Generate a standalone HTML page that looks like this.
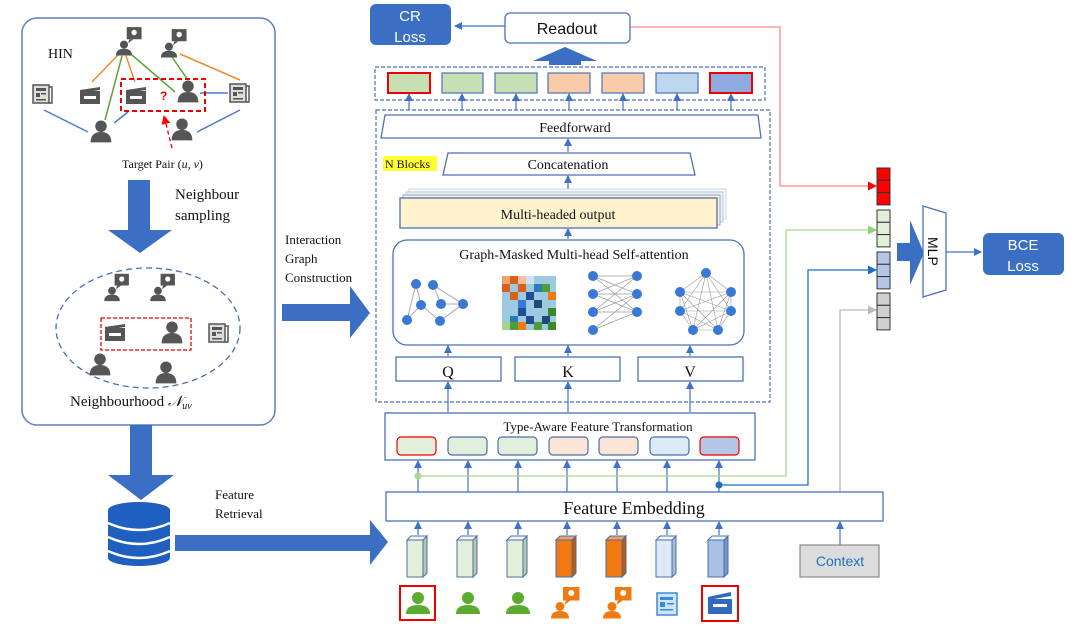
<!DOCTYPE html>
<html><head><meta charset="utf-8"><style>
body{margin:0;background:#fff}
svg{display:block}
text{font-family:"Liberation Serif",serif;fill:#111}
.s{font-family:"Liberation Sans",sans-serif}
</style></head><body>
<svg width="1080" height="626" viewBox="0 0 1080 626" xmlns="http://www.w3.org/2000/svg">
<defs>
<marker id="ab" markerWidth="8" markerHeight="8" refX="7" refY="4" orient="auto" markerUnits="userSpaceOnUse"><path d="M0,0 L8,4 L0,8z" fill="#3f72c6"/></marker>
<marker id="ar" markerWidth="9" markerHeight="9" refX="8" refY="4.5" orient="auto" markerUnits="userSpaceOnUse"><path d="M0,0 L9,4.5 L0,9z" fill="#f00"/></marker>
<marker id="ag" markerWidth="9" markerHeight="9" refX="8" refY="4.5" orient="auto" markerUnits="userSpaceOnUse"><path d="M0,0 L9,4.5 L0,9z" fill="#8fd07a"/></marker>
<marker id="ak" markerWidth="9" markerHeight="9" refX="8" refY="4.5" orient="auto" markerUnits="userSpaceOnUse"><path d="M0,0 L9,4.5 L0,9z" fill="#bbb"/></marker>
<marker id="au" markerWidth="9" markerHeight="9" refX="8" refY="4.5" orient="auto" markerUnits="userSpaceOnUse"><path d="M0,0 L9,4.5 L0,9z" fill="#1f6fc4"/></marker>
<g id="p"><circle cx="0" cy="-5" r="5"/><path d="M-9,9 Q-9,0 0,0 Q9,0 9,9z"/></g>
<g id="pc"><rect x="2" y="-14" width="11" height="9" /><path d="M4,-5 L3,-2 L7,-5z"/><circle cx="0" cy="-1" r="3"/><path d="M-6,7 Q-6,2 0,2 Q6,2 6,7z"/><circle cx="7.5" cy="-10" r="2" fill="#fff"/></g>
<g id="np"><rect x="-9" y="-9" width="16" height="18" fill="#ddd" stroke="#555" stroke-width="1.5"/><rect x="-6" y="-6" width="10" height="3" fill="#555"/><rect x="-6" y="-1" width="4" height="4" fill="#555"/><rect x="-1" y="-1" width="5" height="1.5" fill="#555"/><rect x="-6" y="5" width="10" height="1.5" fill="#555"/><path d="M7,-7 h3 v16 h-3" fill="none" stroke="#555" stroke-width="1.5"/></g>
<g id="cl"><rect x="-10" y="-5" width="20" height="13" fill="#555"/><path d="M-10,-6 L10,-9 L10,-6 L-10,-3z" fill="#555"/><rect x="-6" y="0" width="12" height="3" fill="#fff"/></g>
</defs>

<!-- LEFT PANEL -->
<rect x="22" y="18" width="253" height="407" rx="15" fill="#fff" stroke="#5b7fc0" stroke-width="1.5"/>
<text x="48" y="58" font-size="14">HIN</text>
<g stroke-width="1.5">
<line x1="118" y1="55" x2="92" y2="82" stroke="#f08a30"/>
<line x1="122" y1="56" x2="105" y2="120" stroke="#5aa63a"/>
<line x1="126" y1="56" x2="135" y2="82" stroke="#f08a30"/>
<line x1="132" y1="55" x2="175" y2="92" stroke="#5aa63a"/>
<line x1="172" y1="57" x2="188" y2="80" stroke="#5aa63a"/>
<line x1="180" y1="54" x2="240" y2="80" stroke="#f08a30"/>
<line x1="44" y1="110" x2="88" y2="132" stroke="#4a7cc8"/>
<line x1="114" y1="123" x2="128" y2="112" stroke="#4a7cc8"/>
<line x1="200" y1="93" x2="228" y2="93" stroke="#4a7cc8"/>
<line x1="197" y1="132" x2="240" y2="110" stroke="#4a7cc8"/>
</g>
<g fill="#555">
<g transform="translate(124,46) scale(1.35)"><use href="#pc"/></g>
<g transform="translate(169,48) scale(1.35)"><use href="#pc"/></g>
<g transform="translate(101,132) scale(1.15)"><use href="#p"/></g>
<g transform="translate(182,130) scale(1.15)"><use href="#p"/></g>
<g transform="translate(188,92) scale(1.15)"><use href="#p"/></g>
<use href="#cl" x="90" y="96"/><use href="#cl" x="136" y="96"/>
<use href="#np" x="42" y="94"/><use href="#np" x="239" y="93"/>
</g>
<rect x="121" y="79" width="84" height="32" fill="none" stroke="#e00" stroke-width="2" stroke-dasharray="5,3"/>
<text x="160" y="100" font-size="12" style="fill:#e00" font-weight="bold" class="s">?</text>
<line x1="172" y1="148" x2="164" y2="116" stroke="#e00" stroke-width="1.3" stroke-dasharray="4,3" marker-end="url(#ar)"/>
<text x="122" y="168" font-size="12">Target Pair (<tspan font-style="italic">u, v</tspan>)</text>
<path d="M128,180 h22 v50 h22 l-32,23 l-32,-23 h20z" fill="#3a6fc4"/>
<text x="175" y="199" font-size="15">Neighbour</text>
<text x="175" y="220" font-size="15">sampling</text>
<ellipse cx="148" cy="328" rx="92" ry="60" fill="none" stroke="#4a6fb0" stroke-width="1.3" stroke-dasharray="6,4"/>
<g fill="#555">
<g transform="translate(112,292) scale(1.3)"><use href="#pc"/></g>
<g transform="translate(158,292) scale(1.3)"><use href="#pc"/></g>
<use href="#cl" x="115" y="333"/>
<g transform="translate(172,333) scale(1.15)"><use href="#p"/></g>
<use href="#np" x="218" y="333"/>
<g transform="translate(100,365) scale(1.15)"><use href="#p"/></g>
<g transform="translate(166,373) scale(1.15)"><use href="#p"/></g>
</g>
<rect x="101" y="318" width="90" height="32" fill="none" stroke="#e00" stroke-width="1.3" stroke-dasharray="4,2"/>
<text x="70" y="406" font-size="15">Neighbourhood <tspan font-style="italic">𝒩<tspan font-size="10" dy="3">uv</tspan></tspan></text>

<!-- arrows left -->
<text x="285" y="244" font-size="13">Interaction</text>
<text x="285" y="263" font-size="13">Graph</text>
<text x="285" y="282" font-size="13">Construction</text>
<path d="M282,304 h68 v-18 l20,27 l-20,25 v-17 h-68z" fill="#3a6fc4"/>
<path d="M130,425 h22 v50 h22 l-33,25 l-33,-25 h22z" fill="#3a6fc4"/>
<text x="215" y="499" font-size="13">Feature</text>
<text x="215" y="518" font-size="13">Retrieval</text>
<path d="M175,535 h195 v-15 l18,22 l-18,23 v-14 h-195z" fill="#3a6fc4"/>
<g fill="#1f5fbf">
<ellipse cx="139" cy="510" rx="31" ry="8"/>
<rect x="108" y="510" width="62" height="48"/>
<ellipse cx="139" cy="558" rx="31" ry="8"/>
</g>
<g fill="none" stroke="#fff" stroke-width="2.5">
<path d="M108,523 Q139,537 170,523"/><path d="M108,537 Q139,551 170,537"/><path d="M108,551 Q139,565 170,551"/>
</g>

<!-- TOP -->
<rect x="370" y="4" width="81" height="41" rx="6" fill="#3a6fc4"/>
<text x="410" y="21" font-size="15" text-anchor="middle" class="s" style="fill:#fff">CR</text>
<text x="410" y="42" font-size="15" text-anchor="middle" class="s" style="fill:#fff">Loss</text>
<line x1="505" y1="26" x2="455" y2="26" stroke="#3f72c6" stroke-width="1.3" marker-end="url(#ab)"/>
<rect x="505" y="13" width="125" height="30" rx="5" fill="#fff" stroke="#4a72b8" stroke-width="1.3"/>
<text x="567" y="34" font-size="16" text-anchor="middle" class="s">Readout</text>
<path d="M533,61 L565,47 L597,61 h-16 v4 h-32 v-4z" fill="#3a6fc4"/>
<rect x="375" y="67" width="390" height="33" fill="none" stroke="#4a72b8" stroke-width="1.2" stroke-dasharray="4,2"/>
<g stroke-width="1.2">
<rect x="388" y="73" width="42" height="20" fill="#c6e0b4" stroke="#e00" stroke-width="2"/>
<rect x="442" y="73" width="41" height="20" fill="#c6e0b4" stroke="#4a72b8"/>
<rect x="495" y="73" width="42" height="20" fill="#c6e0b4" stroke="#4a72b8"/>
<rect x="548" y="73" width="42" height="20" fill="#f9cba8" stroke="#4a72b8"/>
<rect x="602" y="73" width="42" height="20" fill="#f9cba8" stroke="#4a72b8"/>
<rect x="656" y="73" width="42" height="20" fill="#bdd7ee" stroke="#4a72b8"/>
<rect x="710" y="73" width="42" height="20" fill="#8eaadf" stroke="#e00" stroke-width="2"/>
</g>
<g stroke="#3f72c6" stroke-width="1.2" marker-end="url(#ab)">
<line x1="409" y1="110" x2="409" y2="94"/><line x1="462" y1="110" x2="462" y2="94"/>
<line x1="516" y1="110" x2="516" y2="94"/><line x1="569" y1="110" x2="569" y2="94"/>
<line x1="623" y1="110" x2="623" y2="94"/><line x1="677" y1="110" x2="677" y2="94"/>
<line x1="731" y1="110" x2="731" y2="94"/>
</g>
<rect x="376" y="110" width="394" height="292" fill="none" stroke="#4a72b8" stroke-width="1.2" stroke-dasharray="4,2"/>
<path d="M385,115 L758,115 L761,138 L381,138z" fill="#fff" stroke="#4a72b8" stroke-width="1.3"/>
<text x="575" y="132" font-size="14" text-anchor="middle">Feedforward</text>
<path d="M448,153 L690,153 L695,175 L443,175z" fill="#fff" stroke="#4a72b8" stroke-width="1.3"/>
<text x="568" y="169" font-size="14" text-anchor="middle">Concatenation</text>
<rect x="383" y="156" width="54" height="15" fill="#ffff33"/>
<text x="385" y="168" font-size="12">N Blocks</text>
<g stroke="#3f72c6" stroke-width="1.2" marker-end="url(#ab)">
<line x1="568" y1="152" x2="568" y2="139"/><line x1="568" y1="196" x2="568" y2="176"/>
<line x1="568" y1="239" x2="568" y2="229"/>
<line x1="448" y1="356" x2="448" y2="346"/><line x1="568" y1="356" x2="568" y2="346"/><line x1="690" y1="356" x2="690" y2="346"/>
<line x1="448" y1="412" x2="448" y2="382"/><line x1="568" y1="412" x2="568" y2="382"/><line x1="690" y1="412" x2="690" y2="382"/>
</g>
<rect x="409" y="189" width="317" height="30" fill="#f5f8fc" stroke="#cdd8e8"/>
<rect x="406" y="192" width="317" height="30" fill="#eef2f8" stroke="#b8c6dc"/>
<rect x="403" y="195" width="317" height="30" fill="#fdf1cf" stroke="#8ea6cc"/>
<rect x="400" y="198" width="317" height="30" fill="#fff2cc" stroke="#4a72b8" stroke-width="1.3"/>
<text x="558" y="219" font-size="14" text-anchor="middle">Multi-headed output</text>
<rect x="393" y="240" width="351" height="105" rx="14" fill="#fff" stroke="#4a72b8" stroke-width="1.3"/>
<text x="574" y="259" font-size="14" text-anchor="middle">Graph-Masked Multi-head Self-attention</text>
<g stroke="#999" stroke-width="0.8">
<line x1="416" y1="284" x2="407" y2="320"/><line x1="416" y1="284" x2="421" y2="305"/><line x1="433" y1="285" x2="441" y2="304"/>
<line x1="441" y1="304" x2="463" y2="304"/><line x1="433" y1="285" x2="463" y2="304"/><line x1="421" y1="305" x2="440" y2="321"/>
<line x1="407" y1="320" x2="421" y2="305"/><line x1="440" y1="321" x2="463" y2="304"/>
</g>
<g fill="#3a78d6"><circle cx="416" cy="284" r="5"/><circle cx="433" cy="285" r="5"/><circle cx="421" cy="305" r="5"/><circle cx="441" cy="304" r="5"/><circle cx="463" cy="304" r="5"/><circle cx="407" cy="320" r="5"/><circle cx="440" cy="321" r="5"/></g>
<g>
<rect x="502" y="276" width="54" height="54" fill="#9ecae1"/>
<rect x="502" y="276" width="8" height="8" fill="#f4a36a"/><rect x="510" y="276" width="8" height="8" fill="#d9601a"/><rect x="518" y="276" width="8" height="8" fill="#f8c09a"/><rect x="526" y="276" width="8" height="8" fill="#cfe3f3"/>
<rect x="502" y="284" width="8" height="8" fill="#d9601a"/><rect x="518" y="284" width="8" height="8" fill="#d9601a"/><rect x="534" y="284" width="8" height="8" fill="#2b7bba"/><rect x="542" y="284" width="8" height="8" fill="#4a9f3a"/>
<rect x="510" y="292" width="8" height="8" fill="#d9601a"/><rect x="526" y="292" width="8" height="8" fill="#1f4e91"/><rect x="548" y="292" width="8" height="8" fill="#f07a10"/>
<rect x="518" y="300" width="8" height="8" fill="#3a78d6"/><rect x="534" y="300" width="8" height="8" fill="#1b4a7a"/>
<rect x="518" y="308" width="8" height="8" fill="#1f4e91"/><rect x="548" y="308" width="8" height="8" fill="#3a8a2a"/>
<rect x="510" y="316" width="8" height="8" fill="#2b7bba"/><rect x="526" y="316" width="8" height="8" fill="#1f4e91"/><rect x="542" y="316" width="8" height="8" fill="#1b4a7a"/>
<rect x="502" y="322" width="8" height="8" fill="#a5d38a"/><rect x="510" y="322" width="8" height="8" fill="#4a9f3a"/><rect x="518" y="322" width="8" height="8" fill="#f07a10"/><rect x="534" y="322" width="8" height="8" fill="#4a9f3a"/><rect x="548" y="322" width="8" height="8" fill="#3a8a2a"/>
</g>
<g stroke="#999" stroke-width="0.7" fill="none">
<path d="M593,276 L637,276 M593,276 L637,294 M593,276 L637,312 M593,294 L637,276 M593,294 L637,312 M593,312 L637,276 M593,312 L637,294 M593,312 L637,312 M593,330 L637,294 M593,330 L637,312 M593,294 L637,294"/>
</g>
<g fill="#3a78d6"><circle cx="593" cy="276" r="5"/><circle cx="593" cy="294" r="5"/><circle cx="593" cy="312" r="5"/><circle cx="593" cy="330" r="5"/><circle cx="637" cy="276" r="5"/><circle cx="637" cy="294" r="5"/><circle cx="637" cy="312" r="5"/></g>
<g stroke="#999" stroke-width="0.6" fill="none">
<path d="M706,273 L680,292 L680,311 L693,330 L718,330 L731,311 L731,292z M706,273 L680,311 M706,273 L693,330 M706,273 L718,330 M706,273 L731,311 M680,292 L693,330 M680,292 L718,330 M680,292 L731,311 M680,292 L731,292 M680,311 L718,330 M680,311 L731,311 M680,311 L731,292 M693,330 L731,311 M693,330 L731,292 M718,330 L731,292"/>
</g>
<g fill="#3a78d6"><circle cx="706" cy="273" r="5"/><circle cx="680" cy="292" r="5"/><circle cx="680" cy="311" r="5"/><circle cx="693" cy="330" r="5"/><circle cx="718" cy="330" r="5"/><circle cx="731" cy="311" r="5"/><circle cx="731" cy="292" r="5"/></g>
<g fill="#fff" stroke="#4a72b8" stroke-width="1.3">
<rect x="396" y="357" width="105" height="24"/><rect x="515" y="357" width="105" height="24"/><rect x="638" y="357" width="105" height="24"/>
</g>
<text x="448" y="377" font-size="16" text-anchor="middle">Q</text>
<text x="568" y="377" font-size="16" text-anchor="middle">K</text>
<text x="690" y="377" font-size="16" text-anchor="middle">V</text>

<rect x="385" y="413" width="370" height="47" fill="#fff" stroke="#4a72b8" stroke-width="1.3"/>
<text x="598" y="431" font-size="13" text-anchor="middle">Type-Aware Feature Transformation</text>
<g stroke-width="1.2">
<rect x="397" y="437" width="39" height="18" rx="4" fill="#e2efda" stroke="#e00"/>
<rect x="448" y="437" width="39" height="18" rx="4" fill="#e2efda" stroke="#4a6fa8"/>
<rect x="498" y="437" width="39" height="18" rx="4" fill="#e2efda" stroke="#4a6fa8"/>
<rect x="549" y="437" width="39" height="18" rx="4" fill="#fce4d6" stroke="#4a6fa8"/>
<rect x="599" y="437" width="39" height="18" rx="4" fill="#fce4d6" stroke="#4a6fa8"/>
<rect x="650" y="437" width="39" height="18" rx="4" fill="#ddebf7" stroke="#4a6fa8"/>
<rect x="700" y="437" width="39" height="18" rx="4" fill="#b4c7e7" stroke="#e00"/>
</g>
<g stroke="#3f72c6" stroke-width="1.2" marker-end="url(#ab)">
<line x1="418" y1="492" x2="418" y2="461"/><line x1="468" y1="492" x2="468" y2="461"/><line x1="518" y1="492" x2="518" y2="461"/>
<line x1="567" y1="492" x2="567" y2="461"/><line x1="617" y1="492" x2="617" y2="461"/><line x1="667" y1="492" x2="667" y2="461"/><line x1="719" y1="492" x2="719" y2="461"/>
</g>
<polyline points="418,476 786,476 786,230 876,230" fill="none" stroke="#a8d88f" stroke-width="1.3" marker-end="url(#ag)"/>
<circle cx="418" cy="476" r="3.5" fill="#a8d88f"/>
<polyline points="719,485 808,485 808,270 876,270" fill="none" stroke="#1f6fc4" stroke-width="1.3" marker-end="url(#au)"/>
<circle cx="719" cy="485" r="3.5" fill="#1f6fc4"/>
<polyline points="840,492 840,310 876,310" fill="none" stroke="#bbb" stroke-width="1.3" marker-end="url(#ak)"/>
<polyline points="630,27 780,27 780,186 876,186" fill="none" stroke="#f66" stroke-width="1" marker-end="url(#ar)"/>

<rect x="386" y="492" width="497" height="29" fill="#fff" stroke="#4a72b8" stroke-width="1.3"/>
<text x="634" y="514" font-size="18" text-anchor="middle">Feature Embedding</text>
<g stroke="#3f72c6" stroke-width="1.2" marker-end="url(#ab)">
<line x1="418" y1="535" x2="418" y2="522"/><line x1="468" y1="535" x2="468" y2="522"/><line x1="518" y1="535" x2="518" y2="522"/>
<line x1="567" y1="535" x2="567" y2="522"/><line x1="617" y1="535" x2="617" y2="522"/><line x1="667" y1="535" x2="667" y2="522"/><line x1="719" y1="535" x2="719" y2="522"/>
<line x1="840" y1="545" x2="840" y2="522"/>
</g>
<g stroke="#4a6fa8" stroke-width="1">
<g fill="#e2efda"><path d="M407,540 h16 v37 h-16z"/><path d="M457,540 h16 v37 h-16z"/><path d="M507,540 h16 v37 h-16z"/></g>
<g fill="#b9c9a8"><path d="M423,540 l4,-4 v37 l-4,4z"/><path d="M473,540 l4,-4 v37 l-4,4z"/><path d="M523,540 l4,-4 v37 l-4,4z"/></g>
<g fill="#f07a10"><path d="M556,540 h16 v37 h-16z"/><path d="M606,540 h16 v37 h-16z"/></g>
<g fill="#c05a08"><path d="M572,540 l4,-4 v37 l-4,4z"/><path d="M622,540 l4,-4 v37 l-4,4z"/></g>
<path d="M656,540 h16 v37 h-16z" fill="#ddebf7"/><path d="M672,540 l4,-4 v37 l-4,4z" fill="#a8bcd6"/>
<path d="M708,540 h16 v37 h-16z" fill="#a9c0e6"/><path d="M724,540 l4,-4 v37 l-4,4z" fill="#7a94c4"/>
<g fill="#f5f8fb"><path d="M407,540 l4,-4 h16 l-4,4z"/><path d="M457,540 l4,-4 h16 l-4,4z"/><path d="M507,540 l4,-4 h16 l-4,4z"/><path d="M656,540 l4,-4 h16 l-4,4z"/><path d="M708,540 l4,-4 h16 l-4,4z"/></g>
<g fill="#f4a060"><path d="M556,540 l4,-4 h16 l-4,4z"/><path d="M606,540 l4,-4 h16 l-4,4z"/></g>
</g>
<rect x="800" y="545" width="79" height="32" fill="#dcdcdc" stroke="#888" stroke-width="1.2"/>
<text x="840" y="566" font-size="14" text-anchor="middle" class="s" style="fill:#1f6fc4">Context</text>
<g fill="#5aab2e">
<circle cx="418" cy="598" r="6"/><path d="M406,614 Q406,605 418,605 Q430,605 430,614z"/>
<circle cx="468" cy="598" r="6"/><path d="M456,614 Q456,605 468,605 Q480,605 480,614z"/>
<circle cx="518" cy="598" r="6"/><path d="M506,614 Q506,605 518,605 Q530,605 530,614z"/>
</g>
<rect x="400" y="586" width="35" height="34" fill="none" stroke="#e00" stroke-width="2"/>
<g fill="#f07a10">
<g transform="translate(560,608) scale(1.5)"><use href="#pc"/></g>
<g transform="translate(612,608) scale(1.5)"><use href="#pc"/></g>
</g>
<g>
<rect x="657" y="593" width="20" height="22" fill="#cfe3f6" stroke="#3a8ad6" stroke-width="1.5"/>
<rect x="660" y="597" width="13" height="3" fill="#3a8ad6"/><rect x="660" y="602" width="5" height="5" fill="#3a8ad6"/><rect x="667" y="603" width="7" height="1.5" fill="#3a8ad6"/><rect x="660" y="609" width="13" height="1.5" fill="#3a8ad6"/>
</g>
<rect x="702" y="586" width="36" height="35" fill="none" stroke="#e00" stroke-width="2"/>
<g fill="#2f6ac0"><rect x="708" y="599" width="24" height="15"/><path d="M708,597 L731,592 L731,596 L708,600z"/></g>
<rect x="713" y="604" width="14" height="3" fill="#fff"/>

<!-- RIGHT -->
<g stroke="#333" stroke-width="1">
<rect x="877" y="168" width="13" height="12.3" fill="#f00"/><rect x="877" y="180.3" width="13" height="12.3" fill="#f00"/><rect x="877" y="192.6" width="13" height="12.3" fill="#f00"/>
<rect x="877" y="210" width="13" height="12.3" fill="#e2efda"/><rect x="877" y="222.3" width="13" height="12.3" fill="#e2efda"/><rect x="877" y="234.6" width="13" height="12.3" fill="#e2efda"/>
<rect x="877" y="252" width="13" height="12.3" fill="#b4c7e7"/><rect x="877" y="264.3" width="13" height="12.3" fill="#b4c7e7"/><rect x="877" y="276.6" width="13" height="12.3" fill="#b4c7e7"/>
<rect x="877" y="293" width="13" height="12.3" fill="#d0d0d0"/><rect x="877" y="305.3" width="13" height="12.3" fill="#d0d0d0"/><rect x="877" y="317.6" width="13" height="12.3" fill="#d0d0d0"/>
</g>
<path d="M897,243 h13 v-23 l14,33 l-14,32 v-24 h-13z" fill="#3a6fc4"/>
<path d="M923,206 L946,213 L946,290 L923,297z" fill="#fff" stroke="#4a72b8" stroke-width="1.3"/>
<text x="0" y="0" font-size="14" class="s" transform="translate(928,237) rotate(90)">MLP</text>
<line x1="946" y1="252" x2="981" y2="252" stroke="#3f72c6" stroke-width="1.2" marker-end="url(#ab)"/>
<rect x="983" y="233" width="81" height="42" rx="6" fill="#3a6fc4"/>
<text x="1023" y="250" font-size="15" text-anchor="middle" class="s" style="fill:#fff">BCE</text>
<text x="1023" y="271" font-size="15" text-anchor="middle" class="s" style="fill:#fff">Loss</text>
</svg>
</body></html>
